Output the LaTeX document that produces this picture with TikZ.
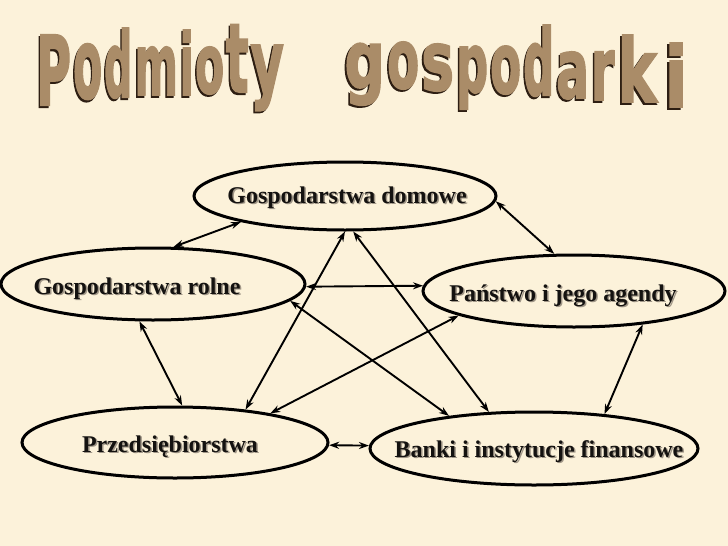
\documentclass[tikz,border=0pt]{standalone}
\usepackage{fontspec}
\setmainfont{Liberation Serif}
\newfontfamily\titlefont{DejaVu Sans}[FakeBold=2.2]
\usetikzlibrary{arrows.meta,shapes.geometric}
\definecolor{bgc}{RGB}{252,242,218}
\definecolor{tfill}{RGB}{170,140,104}
\definecolor{tshade}{RGB}{45,30,18}
\definecolor{lshadow}{RGB}{160,150,135}
\definecolor{ltext}{RGB}{20,18,16}
\newcommand\tlet[3]{\scalebox{#2}[#3]{\makebox[0pt][l]{\hspace{-1.3pt}\raisebox{-0.9pt}{\textcolor{tshade}{#1}}}\textcolor{tfill}{#1}}}
\newcommand\tpl[5]{\rlap{\hspace{#1pt}\makebox[0pt]{\raisebox{-#2pt}{\tlet{#3}{#4}{#5}}}}}
\begin{document}
\begin{tikzpicture}[x=1pt,y=-1pt,
  ell/.style={ellipse,draw=black,line width=3pt,inner sep=0pt},
  lbl/.style={font=\fontsize{24}{28}\selectfont\bfseries,text=ltext,anchor=base,inner sep=0pt},
  lblsh/.style={lbl,text=lshadow},
  conn/.style={line width=1.9pt,{Stealth[length=10pt,width=7pt]}-{Stealth[length=10pt,width=7pt]}},
  tl/.style={anchor=base west,inner sep=0pt,font=\titlefont\bfseries\fontsize{40}{40}\selectfont},
]
\fill[bgc] (0,0) rectangle (728,546);
\useasboundingbox (0,0) rectangle (728,546);

% title (one node, letters warped individually)
\node[tl] (title) at (0,0) {\makebox[700pt][l]{%
\tpl{53.5}{105}{P}{1.19}{2.40}%
\tpl{87.5}{98}{o}{1.06}{2.42}%
\tpl{118}{97}{d}{0.99}{2.27}%
\tpl{156}{95}{m}{1.04}{2.15}%
\tpl{186.5}{95}{i}{1.03}{2.14}%
\tpl{209.5}{93}{o}{1.06}{2.06}%
\tpl{237}{92}{t}{1.19}{2.40}%
\tpl{267}{92}{y}{1.29}{2.15}%
\tpl{364.5}{88}{g}{1.41}{2.0}%
\tpl{403}{88}{o}{1.17}{2.06}%
\tpl{437.5}{90}{s}{1.38}{2.06}%
\tpl{472}{92}{p}{1.12}{2.06}%
\tpl{505.5}{93}{o}{1.13}{2.1}%
\tpl{538.5}{95}{d}{1.08}{2.3}%
\tpl{572.5}{98}{a}{1.22}{2.06}%
\tpl{602.5}{100}{r}{1.19}{2.2}%
\tpl{637}{102}{k}{1.47}{2.2}%
\tpl{676}{107}{i}{1.71}{2.1}%
}};

% ellipses
\node[ell,minimum width=302pt,minimum height=68pt] (gd) at (345,196) {};
\node[ell,minimum width=304pt,minimum height=72pt] (gr) at (153,284) {};
\node[ell,minimum width=302pt,minimum height=72pt] (pa) at (574,291) {};
\node[ell,minimum width=306pt,minimum height=71pt] (pz) at (175,442.5) {};
\node[ell,minimum width=328pt,minimum height=73pt] (bk) at (534,448.5) {};

% labels
\node[lblsh] (gdsh) at (348.5,204.5) {Gospodarstwa domowe};
\node[lbl] (gdl) at (347,203) {Gospodarstwa domowe};
\node[lblsh] (grsh) at (138.5,295.5) {Gospodarstwa rolne};
\node[lbl] (grl) at (137,294) {Gospodarstwa rolne};
\node[lblsh] (pash) at (564.5,302.5) {Państwo i jego agendy};
\node[lbl] (pal) at (563,301) {Państwo i jego agendy};
\node[lblsh] (pzsh) at (171.5,453.5) {Przedsiębiorstwa};
\node[lbl] (pzl) at (170,452) {Przedsiębiorstwa};
\node[lblsh] (bksh) at (540.5,458.5) {Banki i instytucje finansowe};
\node[lbl] (bkl) at (539,457) {Banki i instytucje finansowe};

% connectors
\draw[conn] (gr.61) -- (gd.194);
\draw[conn] (gd.-2) -- (pa.118);
\draw[conn] (gr.-1) -- (pa.178);
\draw[conn] (gr.250) -- (pz.79);
\draw[conn] (pa.-26) -- (bk.26);
\draw[conn] (pz.-1) -- (bk.179);
\draw[conn] (gd.270) -- (pz.25);
\draw[conn] (gd.283) -- (bk.141);
\draw[conn] (gr.-7) -- (bk.159);
\draw[conn] (pa.192) -- (pz.17);
\end{tikzpicture}
\end{document}
